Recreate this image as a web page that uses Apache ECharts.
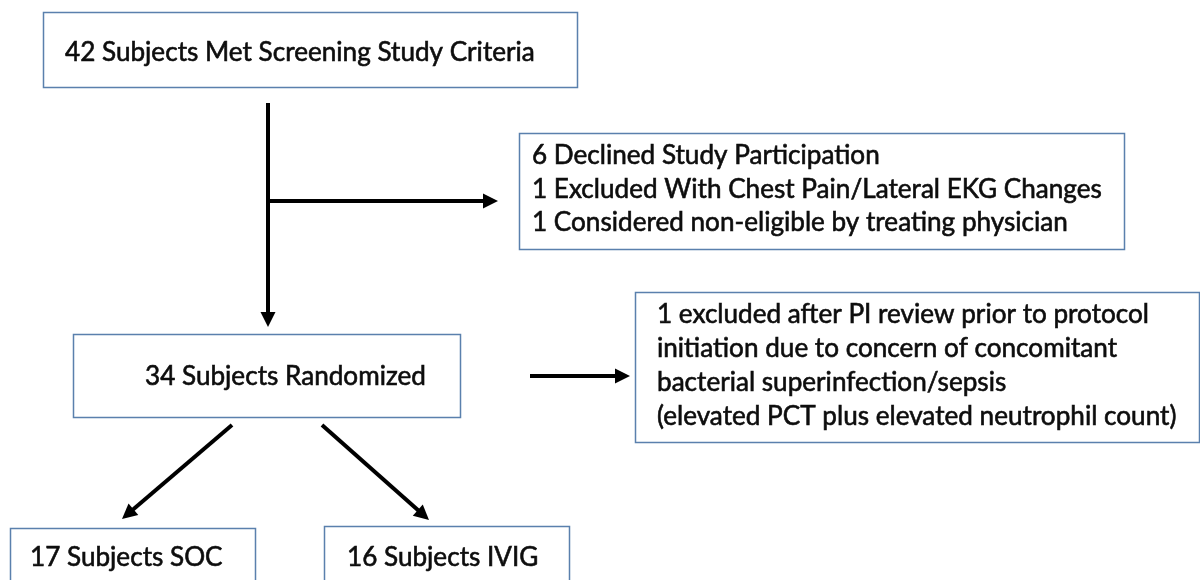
<!DOCTYPE html>
<html>
<head>
<meta charset="utf-8">
<script src="https://cdn.jsdelivr.net/npm/echarts@6/dist/echarts.min.js"></script>
<style>
html,body{margin:0;padding:0;background:#fff;}
#main{width:1200px;height:580px;}
</style>
</head>
<body>
<div id="main"></div>
<script>
// ---- content (text of each flow box) ----
const boxTexts = [
  ["42 Subjects Met Screening Study Criteria"],
  ["6 Declined Study Participation",
   "1 Excluded With Chest Pain/Lateral EKG Changes",
   "1 Considered non-eligible by treating physician"],
  ["34 Subjects Randomized"],
  ["1 excluded after PI review prior to protocol",
   "initiation due to concern of concomitant",
   "bacterial superinfection/sepsis",
   "(elevated PCT plus elevated neutrophil count)"],
  ["17 Subjects SOC"],
  ["16 Subjects IVIG"]
];

// ---- layout (chart coordinates: x 0..1200, y 0..580 top-down) ----
const boxRects = [
  [43, 12, 577, 87],
  [519, 133, 1124, 249],
  [73, 334, 460, 417],
  [635, 292, 1199, 442],
  [10, 528, 255, 600],
  [324, 526, 569, 600]
];
const textStart = [[65, 53], [532, 156], [145, 377], [657, 315], [30, 558], [347, 558]];
const lineGap = [0, 33.5, 0, 34, 0, 0];

// arrows: polyline from start to tip
const arrows = [
  [[268, 103], [268, 327]],
  [[268, 201], [498, 201]],
  [[530, 376], [630, 376]],
  [[232, 425], [122, 519]],
  [[322, 425], [429, 520]]
];

const FONT_FAMILY = 'Lato';
function fitFontSize(text, width) {
  const c = document.createElement('canvas').getContext('2d');
  c.font = '100px ' + FONT_FAMILY;
  return 100 * width / c.measureText(text).width;
}

const chart = echarts.init(document.getElementById('main'));

function render() {
  const fs = fitFontSize(boxTexts[0][0], 470);
  const font = fs.toFixed(2) + 'px ' + FONT_FAMILY;

  const option = {
    animation: false,
    backgroundColor: '#fff',
    grid: {left: 0, right: 0, top: 0, bottom: 0},
    xAxis: {type: 'value', min: 0, max: 1200, show: false},
    yAxis: {type: 'value', min: 0, max: 580, inverse: true, show: false},
    series: [
      {
        type: 'custom',
        coordinateSystem: 'cartesian2d',
        data: boxRects.map((r, i) => [i]),
        clip: false,
        renderItem: function (params, api) {
          const i = api.value(0);
          const r = boxRects[i];
          const p0 = api.coord([r[0], r[1]]);
          const p1 = api.coord([r[2], r[3]]);
          const children = [{
            type: 'rect',
            shape: {x: p0[0] + 0.5, y: p0[1] + 0.5, width: p1[0] - p0[0], height: p1[1] - p0[1]},
            style: {fill: '#fff', stroke: '#5a80ad', lineWidth: 1.5}
          }];
          boxTexts[i].forEach((t, k) => {
            const tp = api.coord([textStart[i][0], textStart[i][1] + k * lineGap[i]]);
            children.push({
              type: 'text',
              style: {text: t, x: tp[0], y: tp[1], font: font, fill: '#0d0d0d',
                      stroke: '#0d0d0d', lineWidth: 0.6,
                      align: 'left', verticalAlign: 'middle'}
            });
          });
          return {type: 'group', children: children};
        }
      },
      {
        type: 'custom',
        coordinateSystem: 'cartesian2d',
        data: arrows.map((a, i) => [i]),
        clip: false,
        renderItem: function (params, api) {
          const a = arrows[api.value(0)];
          const s = api.coord(a[0]);
          const e = api.coord(a[1]);
          const dx = e[0] - s[0], dy = e[1] - s[1];
          const len = Math.sqrt(dx * dx + dy * dy);
          const ux = dx / len, uy = dy / len;
          const headL = 15, headW = 7.5;
          const bx = e[0] - ux * headL, by = e[1] - uy * headL;
          return {
            type: 'group',
            children: [
              {type: 'line', shape: {x1: s[0], y1: s[1], x2: bx + ux * 2, y2: by + uy * 2},
               style: {stroke: '#000', lineWidth: 4}},
              {type: 'polygon',
               shape: {points: [[e[0], e[1]], [bx - uy * headW, by + ux * headW], [bx + uy * headW, by - ux * headW]]},
               style: {fill: '#000'}}
            ]
          };
        }
      }
    ]
  };
  chart.setOption(option);
}
if (document.fonts && document.fonts.load) {
  document.fonts.load('20px ' + FONT_FAMILY).then(render, render);
} else {
  render();
}
</script>
</body>
</html>
